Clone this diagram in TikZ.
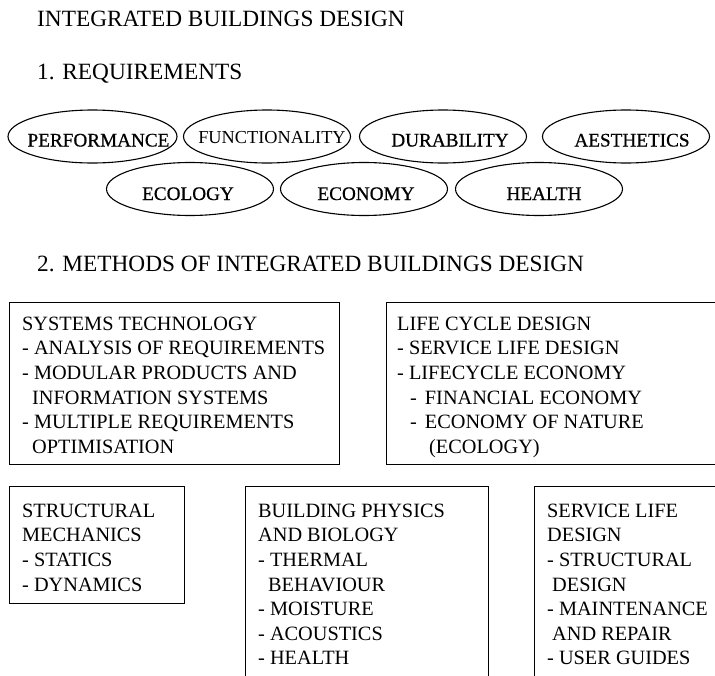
\documentclass[tikz,border=0pt]{standalone}
\usepackage{fontspec}
\setmainfont{Liberation Serif}
\newfontfamily\ovalfont[FakeBold=0.6]{Liberation Serif}
\usetikzlibrary{shapes.geometric}
\tikzset{
  x=1pt, y=-1pt,
  head/.style={anchor=base west, inner sep=0pt, font=\fontsize{23.3}{28}\selectfont},
  oval/.style={draw, line width=1.1pt, ellipse, inner sep=0pt, minimum width=167pt, minimum height=53pt},
  ovaltext/.style={anchor=base, inner sep=0pt, font=\ovalfont\fontsize{19.2}{23}\selectfont},
  frame/.style={draw, line width=1pt, anchor=north west, inner sep=0pt},
  boxtext/.style={anchor=north west, inner sep=0pt, align=left, font=\fontsize{20.3}{24.6}\selectfont},
}
\newcommand{\fl}{\rule{0pt}{17pt}}
\begin{document}
\begin{tikzpicture}
\useasboundingbox (0,0) rectangle (715,675);
\clip (0,0) rectangle (715,675);
% headings
\node[head] (title) at (37,26) {INTEGRATED BUILDINGS DESIGN};
\node[head] (req) at (37,79) {1. REQUIREMENTS};
\node[head] (meth) at (37,271) {2. METHODS OF INTEGRATED BUILDINGS DESIGN};
% ellipses
\node[oval, minimum width=169pt] (perf) at (92.5,136.5) {};
\node[oval] (func) at (267,136.5) {};
\node[oval] (dur) at (443,136.5) {};
\node[oval] (aes) at (626,136.5) {};
\node[oval] (ecol) at (190,189) {};
\node[oval] (econ) at (364,189) {};
\node[oval] (hea) at (539,189) {};
\node[ovaltext] (perft) at (98.5,146.5) {PERFORMANCE};
\node[ovaltext, font=\fontsize{18.3}{21}\selectfont] (funct) at (272,143) {FUNCTIONALITY};
\node[ovaltext] (durt) at (450,146.5) {DURABILITY};
\node[ovaltext] (aest) at (632,146.5) {AESTHETICS};
\node[ovaltext] (ecolt) at (188,200) {ECOLOGY};
\node[ovaltext] (econt) at (366,200) {ECONOMY};
\node[ovaltext] (heat) at (544,200) {HEALTH};
% boxes
\node[frame, minimum width=330pt, minimum height=162pt] (sys) at (9,302) {};
\node[frame, minimum width=350pt, minimum height=162pt] (lcd) at (386,302) {};
\node[frame, minimum width=175pt, minimum height=117pt] (stm) at (9,486) {};
\node[frame, minimum width=243pt, minimum height=220pt] (bpb) at (245,486) {};
\node[frame, minimum width=200pt, minimum height=220pt] (sld) at (534,486) {};
% box texts
\node[boxtext] (syst) at (22,313) {\fl SYSTEMS TECHNOLOGY\\
- ANALYSIS OF REQUIREMENTS\\
- MODULAR PRODUCTS AND\\
\hspace*{10pt}INFORMATION SYSTEMS\\
- MULTIPLE REQUIREMENTS\\
\hspace*{10pt}OPTIMISATION};
\node[boxtext] (lcdt) at (397,313) {\fl LIFE CYCLE DESIGN\\
- SERVICE LIFE DESIGN\\
- LIFECYCLE ECONOMY\\
\hspace*{13pt}-\hspace*{8pt}FINANCIAL ECONOMY\\
\hspace*{13pt}-\hspace*{8pt}ECONOMY OF NATURE\\
\hspace*{32pt}(ECOLOGY)};
\node[boxtext] (stmt) at (22,500) {\fl STRUCTURAL\\
MECHANICS\\
- STATICS\\
- DYNAMICS};
\node[boxtext] (bpbt) at (258,500) {\fl BUILDING PHYSICS\\
AND BIOLOGY\\
- THERMAL\\
\hspace*{10pt}BEHAVIOUR\\
- MOISTURE\\
- ACOUSTICS\\
- HEALTH};
\node[boxtext] (sldt) at (547,500) {\fl SERVICE LIFE\\
DESIGN\\
- STRUCTURAL\\
\hspace*{5pt}DESIGN\\
- MAINTENANCE\\
\hspace*{5pt}AND REPAIR\\
- USER GUIDES};
\end{tikzpicture}
\end{document}
